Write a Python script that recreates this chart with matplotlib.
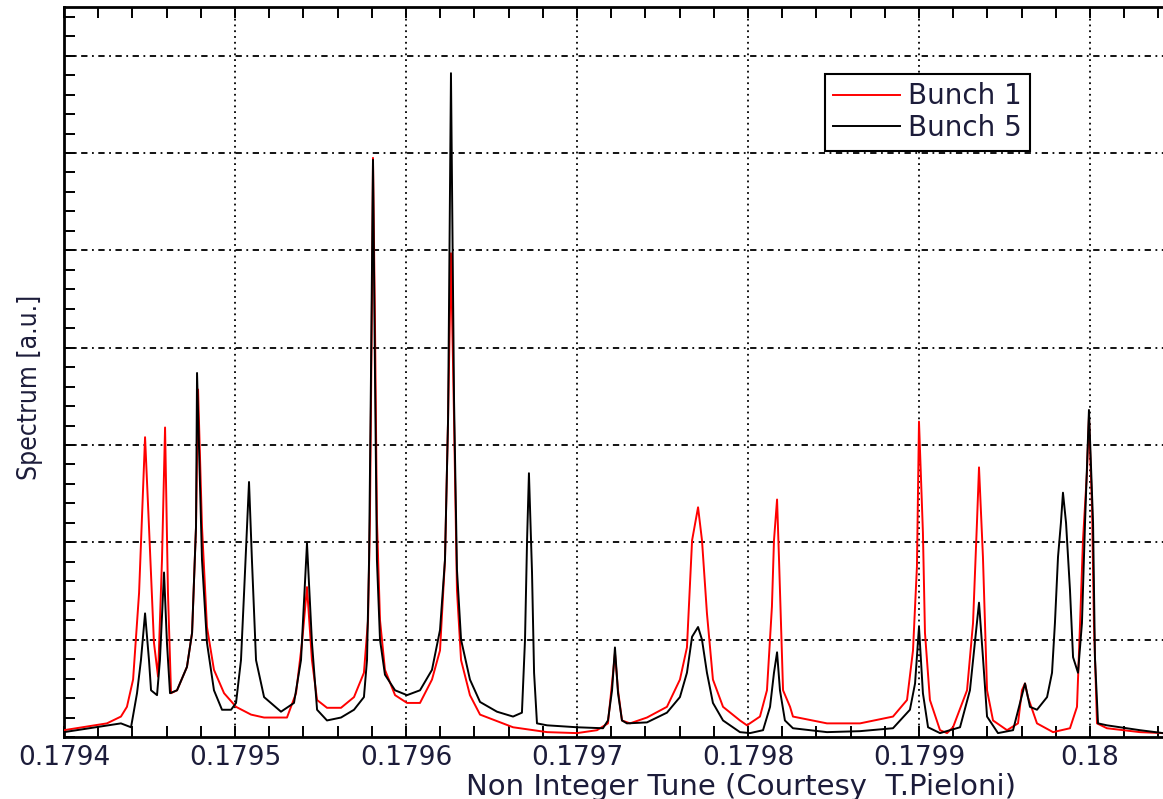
import numpy as np
import matplotlib
matplotlib.use("Agg")
import matplotlib.pyplot as plt
from matplotlib import font_manager
from matplotlib.ticker import MultipleLocator, FuncFormatter

# ─── Data (tune, spectrum in grid units) ─────────────────────────────────────

bunch1_tune = [
    0.1794000, 0.1794251, 0.1794333, 0.1794368, 0.1794404, 0.1794439, 0.1794474,
    0.1794497, 0.1794526, 0.1794550, 0.1794573, 0.1794591, 0.1794608, 0.1794626,
    0.1794661, 0.1794719, 0.1794749, 0.1794772, 0.1794784, 0.1794807, 0.1794836,
    0.1794877, 0.1794936, 0.1795006, 0.1795094, 0.1795170, 0.1795304, 0.1795357,
    0.1795392, 0.1795421, 0.1795450, 0.1795480, 0.1795538, 0.1795620, 0.1795696,
    0.1795754, 0.1795778, 0.1795789, 0.1795801, 0.1795807, 0.1795819, 0.1795830,
    0.1795848, 0.1795877, 0.1795936, 0.1796006, 0.1796082, 0.1796152, 0.1796199,
    0.1796228, 0.1796246, 0.1796263, 0.1796281, 0.1796298, 0.1796322, 0.1796374,
    0.1796433, 0.1796626, 0.1796825, 0.1797000, 0.1797117, 0.1797181, 0.1797211,
    0.1797222, 0.1797240, 0.1797263, 0.1797310, 0.1797409, 0.1797526, 0.1797602,
    0.1797643, 0.1797673, 0.1797708, 0.1797731, 0.1797760, 0.1797795, 0.1797854,
    0.1797953, 0.1797994, 0.1798070, 0.1798111, 0.1798140, 0.1798152, 0.1798170,
    0.1798181, 0.1798205, 0.1798246, 0.1798263, 0.1798462, 0.1798655, 0.1798848,
    0.1798930, 0.1798965, 0.1798988, 0.1799000, 0.1799023, 0.1799035, 0.1799064,
    0.1799123, 0.1799164, 0.1799199, 0.1799281, 0.1799316, 0.1799339, 0.1799351,
    0.1799374, 0.1799398, 0.1799433, 0.1799515, 0.1799579, 0.1799602, 0.1799620,
    0.1799637, 0.1799690, 0.1799784, 0.1799883, 0.1799924, 0.1799942, 0.1799959,
    0.1799982, 0.1799994, 0.1800012, 0.1800023, 0.1800041, 0.1800099, 0.1800292,
    0.1800427,
]
bunch1_spec = [
    0.07, 0.14, 0.21, 0.31, 0.59, 1.48, 3.08,
    2.16, 0.97, 0.62, 1.82, 3.18, 1.48, 0.45,
    0.48, 0.72, 1.07, 2.16, 3.57, 2.16, 1.13,
    0.69, 0.45, 0.31, 0.23, 0.20, 0.20, 0.45,
    0.97, 1.54, 0.79, 0.38, 0.30, 0.30, 0.41,
    0.66, 1.20, 2.23, 4.49, 5.95, 4.18, 2.23,
    1.20, 0.69, 0.43, 0.35, 0.35, 0.59, 0.89,
    1.82, 3.26, 4.97, 3.26, 1.51, 0.79, 0.43,
    0.23, 0.10, 0.05, 0.04, 0.07, 0.14, 0.66,
    0.86, 0.48, 0.17, 0.14, 0.20, 0.31, 0.59,
    0.92, 2.02, 2.36, 2.02, 1.27, 0.59, 0.31,
    0.17, 0.12, 0.21, 0.48, 1.34, 2.02, 2.44,
    1.85, 0.48, 0.31, 0.21, 0.14, 0.14, 0.21,
    0.38, 0.89, 1.75, 3.24, 2.10, 1.07, 0.38,
    0.07, 0.04, 0.10, 0.48, 1.17, 2.20, 2.77,
    1.85, 0.48, 0.17, 0.07, 0.14, 0.48, 0.55,
    0.41, 0.14, 0.05, 0.09, 0.31, 1.17, 2.02,
    2.71, 3.29, 2.36, 1.17, 0.14, 0.09, 0.05,
    0.04,
]

bunch5_tune = [
    0.1794000, 0.1794333, 0.1794392, 0.1794427, 0.1794450, 0.1794474, 0.1794497,
    0.1794509, 0.1794544, 0.1794561, 0.1794585, 0.1794602, 0.1794620, 0.1794661,
    0.1794719, 0.1794749, 0.1794772, 0.1794778, 0.1794807, 0.1794836, 0.1794877,
    0.1794924, 0.1794977, 0.1795006, 0.1795035, 0.1795053, 0.1795082, 0.1795099,
    0.1795123, 0.1795170, 0.1795269, 0.1795345, 0.1795386, 0.1795421, 0.1795450,
    0.1795480, 0.1795538, 0.1795620, 0.1795696, 0.1795754, 0.1795772, 0.1795784,
    0.1795795, 0.1795807, 0.1795819, 0.1795830, 0.1795848, 0.1795877, 0.1795936,
    0.1796006, 0.1796082, 0.1796152, 0.1796199, 0.1796228, 0.1796246, 0.1796263,
    0.1796281, 0.1796298, 0.1796322, 0.1796374, 0.1796433, 0.1796532, 0.1796626,
    0.1796678, 0.1796696, 0.1796708, 0.1796719, 0.1796737, 0.1796749, 0.1796766,
    0.1796825, 0.1797000, 0.1797152, 0.1797181, 0.1797205, 0.1797222, 0.1797240,
    0.1797263, 0.1797292, 0.1797409, 0.1797526, 0.1797602, 0.1797643, 0.1797673,
    0.1797708, 0.1797731, 0.1797760, 0.1797795, 0.1797854, 0.1797953, 0.1798012,
    0.1798088, 0.1798129, 0.1798152, 0.1798170, 0.1798187, 0.1798216, 0.1798263,
    0.1798462, 0.1798655, 0.1798848, 0.1798947, 0.1798977, 0.1799000, 0.1799023,
    0.1799053, 0.1799123, 0.1799240, 0.1799298, 0.1799339, 0.1799351, 0.1799374,
    0.1799398, 0.1799462, 0.1799550, 0.1799585, 0.1799620, 0.1799649, 0.1799690,
    0.1799749, 0.1799778, 0.1799795, 0.1799813, 0.1799830, 0.1799842, 0.1799860,
    0.1799883, 0.1799901, 0.1799930, 0.1799953, 0.1799971, 0.1799994, 0.1800018,
    0.1800029, 0.1800047, 0.1800099, 0.1800292, 0.1800427,
]
bunch5_spec = [
    0.05, 0.14, 0.10, 0.45, 0.79, 1.27, 0.79,
    0.48, 0.43, 0.79, 1.69, 0.97, 0.45, 0.48,
    0.72, 1.07, 2.16, 3.74, 1.82, 0.97, 0.48,
    0.28, 0.28, 0.35, 0.79, 1.48, 2.62, 1.82,
    0.79, 0.41, 0.26, 0.35, 0.79, 1.99, 0.97,
    0.28, 0.17, 0.20, 0.28, 0.41, 0.79, 1.82,
    3.67, 5.93, 3.67, 1.82, 1.00, 0.64, 0.48,
    0.43, 0.48, 0.69, 1.10, 1.82, 3.26, 6.82,
    3.46, 1.72, 1.00, 0.59, 0.36, 0.26, 0.21,
    0.25, 1.00, 2.02, 2.71, 1.69, 0.66, 0.14,
    0.12, 0.10, 0.09, 0.17, 0.48, 0.92, 0.45,
    0.17, 0.14, 0.15, 0.25, 0.41, 0.66, 1.03,
    1.13, 1.00, 0.66, 0.35, 0.17, 0.05, 0.04,
    0.07, 0.31, 0.66, 0.87, 0.48, 0.17, 0.09,
    0.05, 0.06, 0.09, 0.28, 0.55, 1.13, 0.45,
    0.10, 0.04, 0.10, 0.48, 1.17, 1.38, 0.82,
    0.21, 0.04, 0.07, 0.31, 0.55, 0.31, 0.28,
    0.41, 0.66, 1.17, 1.85, 2.20, 2.51, 2.20,
    1.51, 0.82, 0.66, 1.17, 2.20, 3.36, 2.20,
    0.82, 0.14, 0.12, 0.07, 0.04,
]

series_labels = ["Bunch 1", "Bunch 5"]
x_label = "Non Integer Tune (Courtesy  T.Pieloni)"
y_label = "Spectrum [a.u.]"

# ─── Figure ──────────────────────────────────────────────────────────────────

W, H = 1163, 799
fig = plt.figure(figsize=(W / 100, H / 100), dpi=100)
ax = fig.add_axes([64 / W, 62 / H, (W - 64) / W, 730 / H])

text_col = "#1c1c3a"

ax.plot(bunch1_tune, bunch1_spec, color="#ff0000", lw=1.4, label=series_labels[0], zorder=3)
ax.plot(bunch5_tune, bunch5_spec, color="black", lw=1.4, label=series_labels[1], zorder=4)

ax.set_xlim(0.1794, 0.1800427)
ax.set_ylim(0, 7.5)

ax.xaxis.set_major_locator(MultipleLocator(0.0001))
ax.xaxis.set_minor_locator(MultipleLocator(0.00002))
ax.xaxis.set_major_formatter(FuncFormatter(lambda v, p: "%g" % round(v, 6)))
ax.yaxis.set_major_locator(MultipleLocator(1.0))
ax.yaxis.set_minor_locator(MultipleLocator(0.2))
ax.yaxis.set_major_formatter(FuncFormatter(lambda v, p: ""))

ax.tick_params(which="both", direction="in", length=8, width=1.4,
               top=True, right=False, bottom=True, left=True)
ax.tick_params(axis="x", which="major", labelsize=19, pad=6, labelcolor=text_col)

for side in ["left", "top", "bottom"]:
    ax.spines[side].set_linewidth(2.0)
ax.spines["right"].set_visible(False)

# grid: dotted verticals, dash-dot horizontals
for gx in np.arange(0.1795, 0.18005, 0.0001):
    ax.axvline(gx, color="black", lw=1.3, ls=(0, (1, 2.2)), zorder=1)
for gy in range(1, 8):
    ax.axhline(gy, color="black", lw=1.3, ls=(0, (3.5, 2.5, 1, 2.5)), zorder=1)

ax.set_xlabel(x_label, fontsize=21, color=text_col, va="baseline")
ax.xaxis.set_label_coords((741 - 64) / (W - 64), -(795 - 737) / 730)

# the y label in the reference is a condensed face; use one if installed
cond = None
for f in font_manager.fontManager.ttflist:
    nm = f.name.lower()
    if f.style != "normal" or f.weight not in (400, "normal", "regular"):
        continue
    if "condensed" in str(f.stretch) or "condensed" in nm or "narrow" in nm:
        cond = f.fname
        break
if cond:
    ylab_fp = font_manager.FontProperties(fname=cond, size=19)
else:
    ylab_fp = font_manager.FontProperties(family="Liberation Sans", size=15)
ax.set_ylabel(y_label, fontproperties=ylab_fp, color=text_col)
ax.yaxis.set_label_coords(-(64 - 43) / (W - 64), (737 - 387) / 730)

leg = ax.legend(loc="upper left", bbox_to_anchor=((825 - 64) / (W - 64), (737 - 74) / 730),
                borderaxespad=0, fontsize=20, frameon=True, fancybox=False,
                handlelength=2.4, handletextpad=0.3, labelspacing=0.14,
                borderpad=0.3, edgecolor="black", framealpha=1)
leg.get_frame().set_linewidth(1.5)
for t in leg.get_texts():
    t.set_color(text_col)

fig.savefig("out.png", dpi=100)
